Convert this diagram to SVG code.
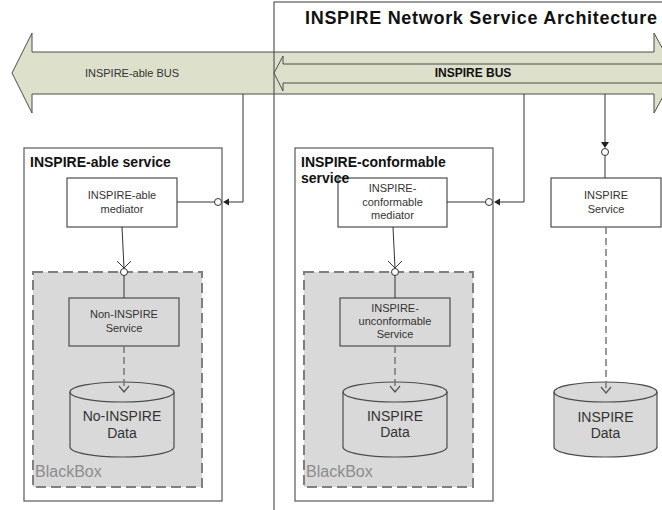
<svg xmlns="http://www.w3.org/2000/svg" width="662" height="510" viewBox="0 0 662 510">
<style>
.bus{fill:#dde0cb;stroke:#4d4d4d;stroke-width:1}
.frame{fill:none;stroke:#595959;stroke-width:1.2}
.svc{fill:#fff;stroke:#595959;stroke-width:1.2}
.box{fill:#fff;stroke:#4d4d4d;stroke-width:1.2}
.gbox{fill:#d9d9d9;stroke:#4d4d4d;stroke-width:1.2}
.bb{fill:#d9d9d9;stroke:#7f7f7f;stroke-width:2;stroke-dasharray:10 5}
.t{font-family:"Liberation Sans",Arial,sans-serif;fill:#333;text-anchor:middle}
.s11{font-size:11px}
.s14{font-size:14px}
.b{font-weight:bold;fill:#111}
.ttl{font-family:"Liberation Sans",Arial,sans-serif;font-weight:bold;fill:#111;font-size:14px}
.bbl{font-family:"Liberation Sans",Arial,sans-serif;font-size:16px;fill:#8c8c8c}
.ln{fill:none;stroke:#333;stroke-width:1}
.dash{fill:none;stroke:#777;stroke-width:1.5;stroke-dasharray:7 4}
.sock{fill:#fff;stroke:#333;stroke-width:1}
.fa{fill:#222;stroke:none}
</style>
<defs>
<marker id="open" viewBox="-7 -6 8 12" refX="0" refY="0" markerWidth="8" markerHeight="12" orient="auto" markerUnits="userSpaceOnUse">
<path d="M-6,-5 L0,0 L-6,5" fill="none" stroke="#555" stroke-width="1.2"/>
</marker>
</defs>

<g id="inspire-able-bus">
<path class="bus" d="M12,73 L32,33 L32,52 L654,52 L654,33 L676,73 L654,113 L654,94 L32,94 L32,113 Z"/>
<text class="t s11" x="132" y="77">INSPIRE-able BUS</text>
</g>
<g id="inspire-bus">
<path class="bus" d="M274,73 L283,56 L283,64 L700,64 L700,83 L283,83 L283,91 Z"/>
<text class="t b" style="font-size:12px" x="473" y="77">INSPIRE BUS</text>
</g>

<g id="architecture-frame">
<rect class="frame" x="274" y="2" width="500" height="600"/>
<text class="ttl" style="font-size:18px" x="305" y="24" textLength="352" lengthAdjust="spacing">INSPIRE Network Service Architecture</text>
</g>

<g id="inspire-able-service">
<rect class="svc" x="24" y="148" width="198" height="353"/>
</g>
<g id="blackbox-1">
<rect class="bb" x="33" y="272" width="169" height="215"/>
<text class="bbl" x="35" y="477">BlackBox</text>
</g>
<g id="inspire-able-mediator">
<rect class="box" x="67" y="178" width="110" height="49"/>
<text class="t s11" x="122" y="199">INSPIRE-able</text>
<text class="t s11" x="122" y="213">mediator</text>
</g>
<g id="non-inspire-service">
<rect class="gbox" x="69" y="298" width="110" height="48"/>
<text class="t s11" x="124" y="318">Non-INSPIRE</text>
<text class="t s11" x="124" y="332">Service</text>
</g>
<g id="no-inspire-data">
<path class="gbox" d="M70,392 A52,10 0 0 1 174,392 L174,447 A52,10 0 0 1 70,447 Z"/>
<path class="ln" style="stroke:#4d4d4d;stroke-width:1.2" d="M70,392 A52,10 0 0 0 174,392"/>
<text class="t s14" x="122" y="421">No-INSPIRE</text>
<text class="t s14" x="122" y="438">Data</text>
</g>

<g id="inspire-conformable-service">
<rect class="svc" x="295" y="148" width="198" height="353"/>
</g>
<g id="blackbox-2">
<rect class="bb" x="304" y="272" width="169" height="215"/>
<text class="bbl" x="306" y="477">BlackBox</text>
</g>
<g id="inspire-conformable-mediator">
<rect class="box" x="338" y="178" width="109" height="49"/>
<text class="t s11" x="392.5" y="192">INSPIRE-</text>
<text class="t s11" x="392.5" y="205.5">conformable</text>
<text class="t s11" x="392.5" y="219">mediator</text>
</g>
<g id="inspire-unconformable-service">
<rect class="gbox" x="340" y="298" width="110" height="48"/>
<text class="t s11" x="395" y="312">INSPIRE-</text>
<text class="t s11" x="395" y="325">unconformable</text>
<text class="t s11" x="395" y="338">Service</text>
</g>
<g id="inspire-data-1">
<path class="gbox" d="M343,392 A52,10 0 0 1 447,392 L447,447 A52,10 0 0 1 343,447 Z"/>
<path class="ln" style="stroke:#4d4d4d;stroke-width:1.2" d="M343,392 A52,10 0 0 0 447,392"/>
<text class="t s14" x="395" y="421">INSPIRE</text>
<text class="t s14" x="395" y="437">Data</text>
</g>

<g id="inspire-service">
<rect class="box" x="551" y="178" width="110" height="49"/>
<text class="t s11" x="606" y="199">INSPIRE</text>
<text class="t s11" x="606" y="213">Service</text>
</g>
<g id="inspire-data-2">
<path class="gbox" d="M554,392 A51.5,10 0 0 1 657,392 L657,447 A51.5,10 0 0 1 554,447 Z"/>
<path class="ln" style="stroke:#4d4d4d;stroke-width:1.2" d="M554,392 A51.5,10 0 0 0 657,392"/>
<text class="t s14" x="605.5" y="422">INSPIRE</text>
<text class="t s14" x="605.5" y="438">Data</text>
</g>

<g id="connectors">
<path class="ln" d="M243,94 L243,202 L229,202"/>
<path class="fa" d="M229,198.5 L229,205.5 L223,202 Z"/>
<circle class="sock" cx="218" cy="202" r="3.5"/>
<path class="ln" d="M214.5,202 L177,202"/>
<path class="ln" d="M122,227 L124,268"/>
<path class="ln" d="M117,261 L124,268 L131,261"/>
<circle class="sock" cx="124" cy="272" r="3.5"/>
<path class="ln" d="M124,275.5 L124,298"/>
<path class="dash" d="M124,346 L124,392" marker-end="url(#open)"/>

<path class="ln" d="M524,94 L524,202 L500,202"/>
<path class="fa" d="M500,198.5 L500,205.5 L494,202 Z"/>
<circle class="sock" cx="489" cy="202" r="3.5"/>
<path class="ln" d="M485.5,202 L447,202"/>
<path class="ln" d="M393,227 L395,268"/>
<path class="ln" d="M388,261 L395,268 L402,261"/>
<circle class="sock" cx="395" cy="272" r="3.5"/>
<path class="ln" d="M395,275.5 L395,298"/>
<path class="dash" d="M395,346 L395,392" marker-end="url(#open)"/>

<path class="ln" d="M605,94 L605,142"/>
<path class="fa" d="M601,142 L609,142 L605,148 Z"/>
<circle class="sock" cx="605" cy="152" r="3.5"/>
<path class="ln" d="M605,155.5 L605,178"/>
<path class="dash" d="M606,227 L606,393" marker-end="url(#open)"/>
</g>

<g id="service-titles">
<text class="ttl" x="30" y="167">INSPIRE-able service</text>
<text class="ttl" x="301" y="167">INSPIRE-conformable</text>
<text class="ttl" x="301" y="183">service</text>
</g>
</svg>
